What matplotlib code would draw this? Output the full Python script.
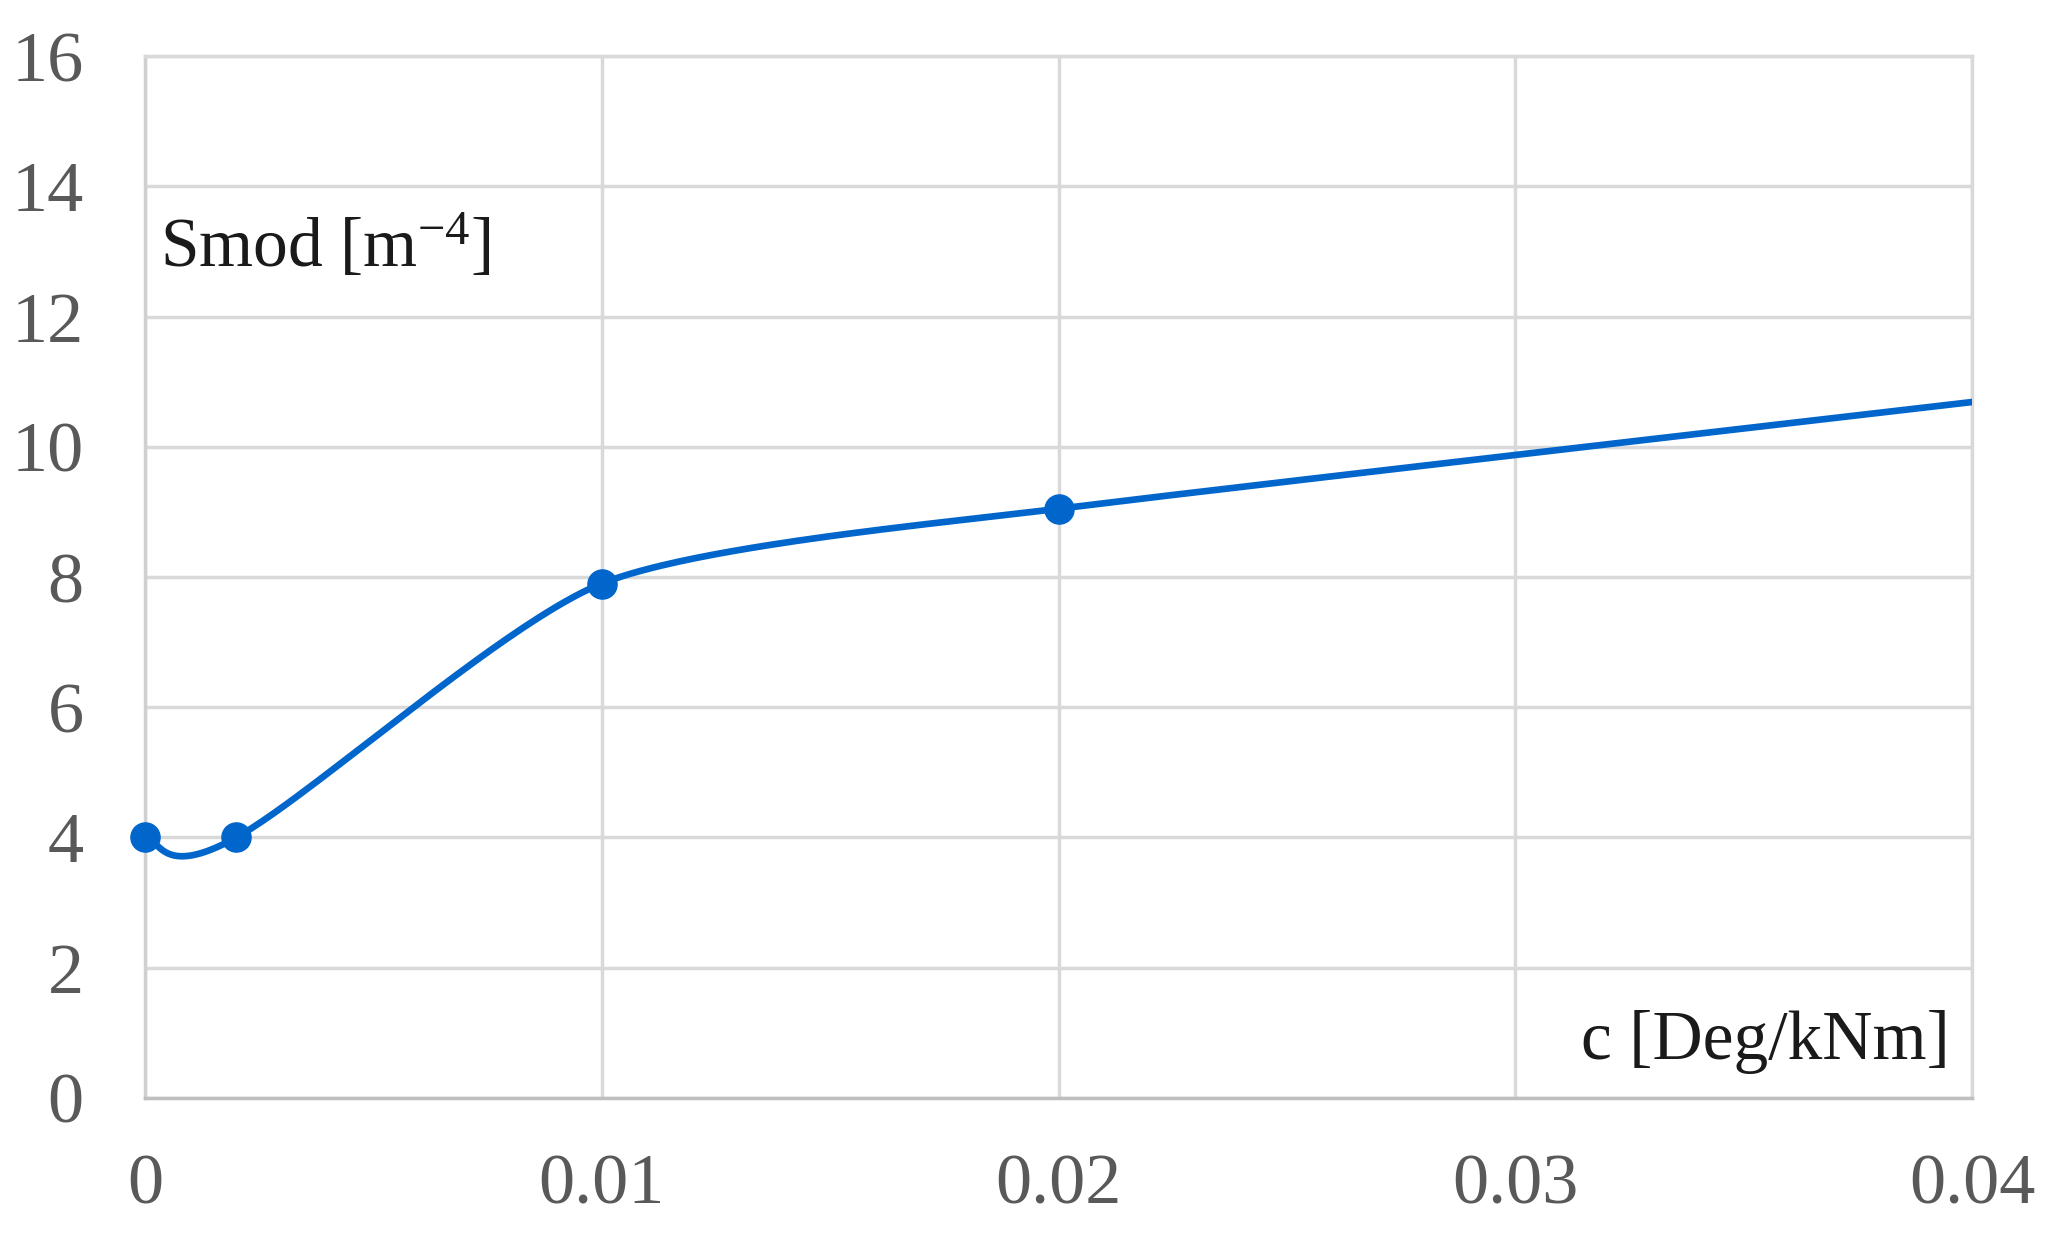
import numpy as np
import matplotlib.pyplot as plt

# values (last point lies beyond the axis limit, only the line reaches it)
c_vals = [0.0, 0.002, 0.01, 0.02, 0.05]
smod_vals = [4.0, 4.0, 7.9, 9.05, 11.5]

x_ticks = [0, 0.01, 0.02, 0.03, 0.04]
x_tick_labels = ['0', '0.01', '0.02', '0.03', '0.04']
y_ticks = [0, 2, 4, 6, 8, 10, 12, 14, 16]

plt.rcParams['font.family'] = ['Liberation Serif', 'DejaVu Serif']
plt.rcParams['mathtext.fontset'] = 'custom'
plt.rcParams['mathtext.rm'] = 'Liberation Serif'
plt.rcParams['mathtext.it'] = 'Liberation Serif:italic'

blue = '#0066CC'
grid_col = '#D9D9D9'


def courbe_lissee(ax, x, y, cap=105.0, n=80):
    # lissage facon Excel, calcule en pixels : Bezier cubique,
    # tangentes Catmull-Rom dont la longueur est plafonnee
    pts = ax.transData.transform(np.column_stack([x, y]))
    p = np.vstack([pts[0], pts, pts[-1]])
    t = np.linspace(0, 1, n)[:, None]
    out = []
    for i in range(1, len(pts)):
        p0, p1, p2, p3 = p[i - 1], p[i], p[i + 1], p[i + 2]
        d1 = (p2 - p0) / 6
        d2 = (p3 - p1) / 6
        if np.hypot(*d1) > cap:
            d1 = d1 / np.hypot(*d1) * cap
        if np.hypot(*d2) > cap:
            d2 = d2 / np.hypot(*d2) * cap
        c1 = p1 + d1
        c2 = p2 - d2
        b = (1 - t) ** 3 * p1 + 3 * (1 - t) ** 2 * t * c1 + 3 * (1 - t) * t ** 2 * c2 + t ** 3 * p2
        out.append(b)
    out = ax.transData.inverted().transform(np.vstack(out))
    return out[:, 0], out[:, 1]


fig = plt.figure(figsize=(20.5, 12.49), dpi=100)
ax = fig.add_axes([0.0707, 0.121, 0.8913, 0.834])

xlim = (0, 0.04)
ax.set_xlim(*xlim)
ax.set_ylim(0, 16)

xs, ys = courbe_lissee(ax, c_vals, smod_vals)
ax.plot(xs, ys, color=blue, lw=4.8, solid_capstyle='butt', zorder=3)

mx = [c for c in c_vals if xlim[0] <= c <= xlim[1]]
my = [s for c, s in zip(c_vals, smod_vals) if xlim[0] <= c <= xlim[1]]
ax.plot(mx, my, 'o', color=blue, ms=21, clip_on=False, zorder=4)

ax.set_xticks(x_ticks)
ax.set_xticklabels(x_tick_labels)
ax.set_yticks(y_ticks)

ax.grid(True, color=grid_col, lw=2.5)
ax.set_axisbelow(True)
for s in ax.spines.values():
    s.set_color(grid_col)
    s.set_linewidth(2.5)
ax.spines['bottom'].set_color('#BFBFBF')
ax.spines['left'].set_color('#D0D0D0')

ax.tick_params(axis='both', length=0, labelsize=52, colors='#595959')
ax.tick_params(axis='x', pad=40)
ax.tick_params(axis='y', pad=44)

ax.text(0.00034, 13.05, 'Smod [m$^{\\mathrm{-4}}$]', fontsize=50, color='#1a1a1a',
        ha='left', va='center')
ax.text(0.0395, 0.86, 'c [Deg/kNm]', fontsize=50, color='#1a1a1a',
        ha='right', va='center')

fig.savefig('out.png', dpi=100, facecolor='white')
